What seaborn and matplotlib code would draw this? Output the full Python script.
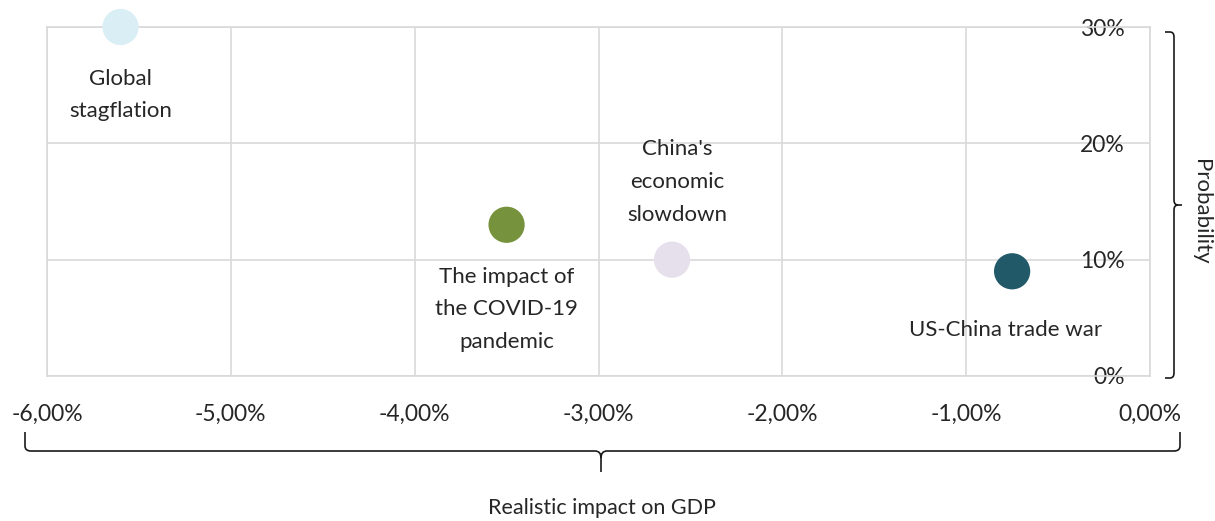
import matplotlib
matplotlib.use("Agg")
import matplotlib.pyplot as plt
from matplotlib.path import Path
from matplotlib.patches import PathPatch
from matplotlib.ticker import FuncFormatter, MultipleLocator
import seaborn as sns
import pandas as pd

# data
scenarios = ["Global\nstagflation", "The impact of\nthe COVID-19\npandemic",
             "China's\neconomic\nslowdown", "US-China trade war"]
gdp_impact = [-5.6, -3.5, -2.6, -0.75]      # % of GDP
probability = [30, 13, 10, 9]                # %
colors = ["#DAEEF5", "#76923C", "#E6E0EC", "#215968"]
# label offsets from the point (points)
label_dx = [0, 0, 4, -5]
label_dy = [-49, -61, 56, -42]

sns.set_theme(style="white")
plt.rcParams["font.family"] = ["Lato", "DejaVu Sans"]
TXT = "#262626"
GRID = "#D9D9D9"

W, H = 1215, 521
fig = plt.figure(figsize=(W / 100, H / 100), dpi=100)
ax = fig.add_axes([47 / W, 1 - 376 / H, (1150 - 47) / W, (376 - 27) / H])

df = pd.DataFrame({"scenario": scenarios, "gdp": gdp_impact, "prob": probability})
sns.scatterplot(data=df, x="gdp", y="prob", hue="scenario",
                palette=dict(zip(scenarios, colors)), s=680, linewidth=0,
                legend=False, clip_on=False, zorder=3, ax=ax)

for name, x, y, dx, dy in zip(scenarios, gdp_impact, probability, label_dx, label_dy):
    ax.annotate(name, (x, y), xytext=(dx, dy), textcoords="offset points",
                ha="center", va="center", fontsize=16, color=TXT,
                linespacing=1.8, multialignment="center")

ax.set_xlim(-6, 0)
ax.set_ylim(0, 30)
ax.xaxis.set_major_locator(MultipleLocator(1))
ax.yaxis.set_major_locator(MultipleLocator(10))
ax.xaxis.set_major_formatter(FuncFormatter(lambda v, _: f"{v:.2f}%".replace(".", ",").replace("-0,00", "0,00")))
ax.yaxis.set_major_formatter(FuncFormatter(lambda v, _: f"{v:.0f}%"))
ax.grid(True, color=GRID, linewidth=1.2)
ax.set_axisbelow(True)
for sp in ax.spines.values():
    sp.set_color(GRID)
    sp.set_linewidth(1.2)
ax.set_xlabel("")
ax.set_ylabel("")

ax.yaxis.tick_right()
ax.tick_params(axis="x", length=0, pad=20, labelsize=16.5, colors=TXT)
ax.tick_params(axis="y", length=0, pad=-18, labelsize=16.5, colors=TXT)
for lbl in ax.get_yticklabels():
    lbl.set_horizontalalignment("right")


def fp(x, y):
    return (x / W, 1 - y / H)


def brace(points):
    verts, codes = [], []
    for v, c in points:
        verts.append(fp(*v))
        codes.append(c)
    fig.add_artist(PathPatch(Path(verts, codes), transform=fig.transFigure,
                             fill=False, edgecolor="#1a1a1a", linewidth=1.2))


M, L, C = Path.MOVETO, Path.LINETO, Path.CURVE3
# bottom brace (x axis title)
brace([((25, 432), M), ((25, 446), L), ((25, 451), C), ((31, 451), C),
       ((595, 451), L), ((601, 451), C), ((601, 458), C), ((601, 472), L),
       ((601, 458), M), ((601, 451), C), ((607, 451), C),
       ((1174, 451), L), ((1180, 451), C), ((1180, 446), C), ((1180, 432), L)])
# right brace (y axis title)
brace([((1165, 32), M), ((1170, 32), L), ((1174, 32), C), ((1174, 37), C),
       ((1174, 200), L), ((1174, 205), C), ((1178, 205), C), ((1182, 205), L),
       ((1178, 205), M), ((1174, 205), C), ((1174, 210), C),
       ((1174, 373), L), ((1174, 378), C), ((1170, 378), C), ((1165, 378), L)])

fig.text(602 / W, 1 - 508 / H, "Realistic impact on GDP", ha="center", va="center",
         fontsize=15.5, color=TXT)
fig.text(1201 / W, 1 - 212 / H, "Probability", ha="center", va="center",
         rotation=-90, fontsize=16, color=TXT)

fig.savefig("out.png", dpi=100)
